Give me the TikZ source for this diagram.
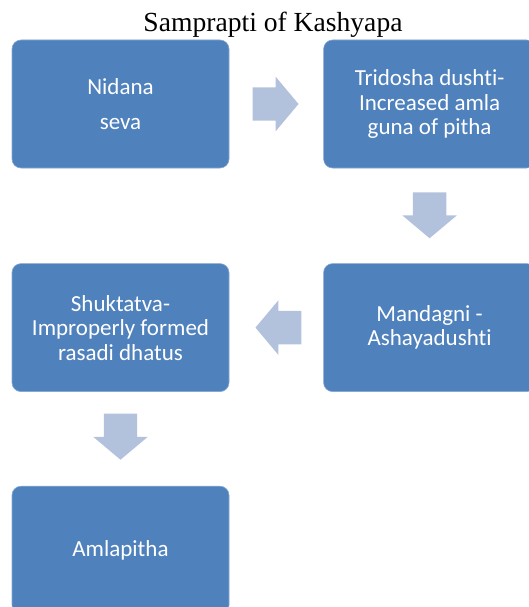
\documentclass[tikz,border=0pt]{standalone}
\usepackage{fontspec}
\setmainfont{Carlito}[Ligatures=NoCommon]
\newfontfamily\titlefont{Liberation Serif}
\usetikzlibrary{positioning, calc, shapes.arrows}
\definecolor{boxblue}{RGB}{79,129,189}
\definecolor{arrowblue}{RGB}{178,194,221}
\tikzset{
    box/.style={rectangle, rounded corners=9pt, fill=boxblue, draw=boxblue!70!white, line width=0.6pt,
        minimum height=128pt, text=white, align=center, font=\fontsize{23}{24.5}\selectfont},
    blockarrow/.style={single arrow, fill=arrowblue, draw=none, inner xsep=0pt, inner ysep=16.5pt,
        minimum height=46pt, single arrow head extend=10.5pt, single arrow tip angle=100, anchor=tail}
}

\begin{document}
\begin{tikzpicture}[x=1pt, y=1pt]
    \clip (0,0) rectangle (529,-607);
    \node[font=\titlefont\fontsize{27.6}{30}\selectfont, anchor=base] (title) at (273,-32) {Samprapti of Kashyapa};
    \node[box, minimum width=217pt] (nidana) at (120.5,-104) {Nidana\\[10.5pt]seva};
    \node[box, minimum width=212pt, right=94pt of nidana] (tridosha) {Tridosha dushti-\\Increased amla\\guna of pitha};
    \node[box, minimum width=212pt, below=95pt of tridosha] (mandagni) {Mandagni -\\Ashayadushti};
    \node[box, minimum width=217pt, left=94pt of mandagni] (shuktatva) {Shuktatva-\\Improperly formed\\rasadi dhatus};
    \node[box, minimum width=217pt, below=94pt of shuktatva] (amlapitha) {Amlapitha};
    \node[blockarrow] (ar1) at ($(nidana.east)!0.245!(tridosha.west)$) {};
    \node[blockarrow, rotate=-90] (ar2) at ($(tridosha.south)!0.25!(mandagni.north)$) {};
    \node[blockarrow, rotate=180] (ar3) at ($(mandagni.west)!0.23!(shuktatva.east)$) {};
    \node[blockarrow, rotate=-90] (ar4) at ($(shuktatva.south)!0.23!(amlapitha.north)$) {};
\end{tikzpicture}
\end{document}
